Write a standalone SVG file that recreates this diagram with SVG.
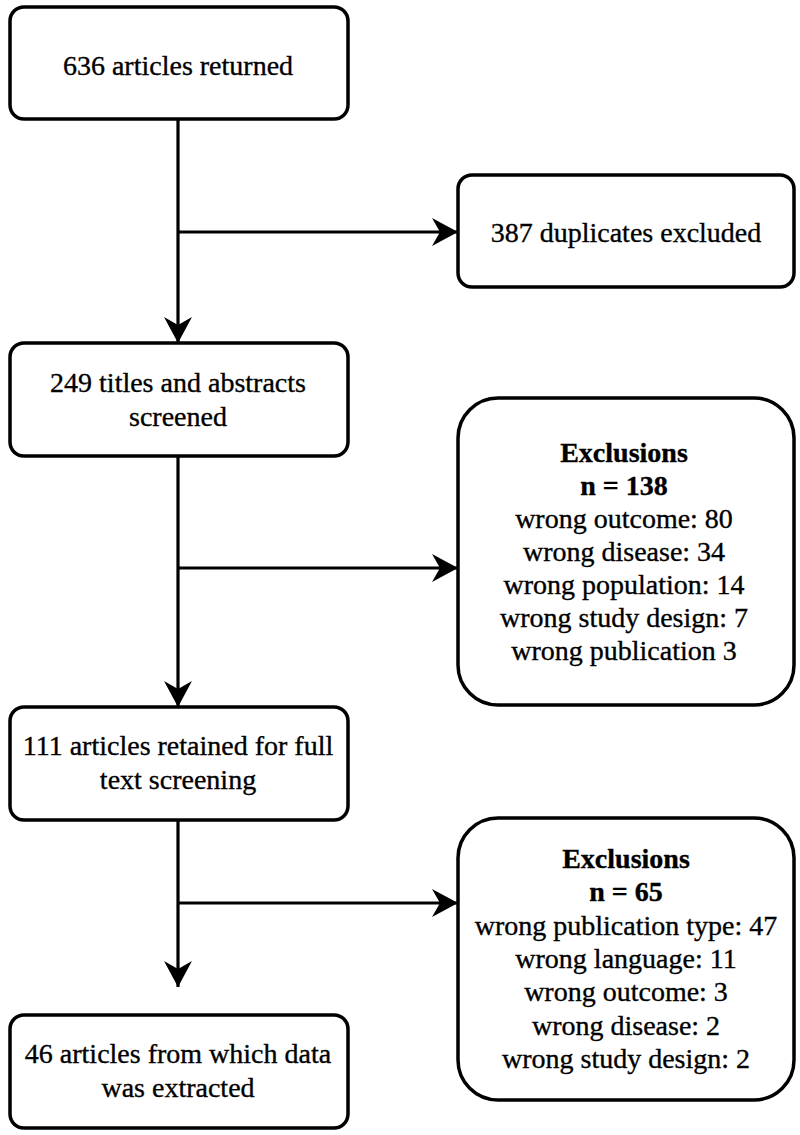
<svg xmlns="http://www.w3.org/2000/svg" width="800" height="1135" viewBox="0 0 800 1135">
<style>
.box{fill:#fff;stroke:#000;stroke-width:3.5}
.t{font-family:'Liberation Serif','Tinos','Nimbus Roman','Noto Serif','DejaVu Serif','FreeSerif',serif;font-size:28px;fill:#000;text-anchor:middle;stroke:#000;stroke-width:0.35}
.b{font-weight:bold}
.ln{fill:none;stroke:#000;stroke-width:3.2}
</style>
<defs>
<marker id="ah" markerUnits="userSpaceOnUse" markerWidth="30" markerHeight="30" viewBox="-27 -15 30 30" refX="0" refY="0" orient="auto">
<path d="M-26,-14 L0,0 L-26,14 L-18,0 Z" fill="#000"/>
</marker>
</defs>
<rect width="800" height="1135" fill="#fff"/>
<g id="connectors">
<path class="ln" d="M178,119 V343" marker-end="url(#ah)"/>
<path class="ln" d="M178,232 H458" marker-end="url(#ah)"/>
<path class="ln" d="M178,456 V707" marker-end="url(#ah)"/>
<path class="ln" d="M178,568 H458" marker-end="url(#ah)"/>
<path class="ln" d="M178,820 V987" marker-end="url(#ah)"/>
<path class="ln" d="M178,903 H458" marker-end="url(#ah)"/>
</g>
<g id="n1">
<rect class="box" x="10" y="7" width="338" height="112" rx="14"/>
<text class="t" x="178" y="75">636 articles returned</text>
</g>
<g id="n2">
<rect class="box" x="458" y="175" width="336" height="112" rx="14"/>
<text class="t" x="626" y="242">387 duplicates excluded</text>
</g>
<g id="n3">
<rect class="box" x="10" y="343" width="338" height="113" rx="14"/>
<text class="t" x="178" y="392">249 titles and abstracts</text>
<text class="t" x="178" y="426">screened</text>
</g>
<g id="n4">
<rect class="box" x="458" y="398" width="336" height="307" rx="40"/>
<text class="t b" x="624" y="462">Exclusions</text>
<text class="t b" x="624" y="495">n = 138</text>
<text class="t" x="624" y="528">wrong outcome: 80</text>
<text class="t" x="624" y="561">wrong disease: 34</text>
<text class="t" x="624" y="594">wrong population: 14</text>
<text class="t" x="624" y="627">wrong study design: 7</text>
<text class="t" x="624" y="660">wrong publication 3</text>
</g>
<g id="n5">
<rect class="box" x="10" y="707" width="338" height="113" rx="14"/>
<text class="t" x="178" y="755">111 articles retained for full</text>
<text class="t" x="178" y="789">text screening</text>
</g>
<g id="n6">
<rect class="box" x="458" y="818" width="336" height="282" rx="40"/>
<text class="t b" x="626" y="868">Exclusions</text>
<text class="t b" x="626" y="901">n = 65</text>
<text class="t" x="626" y="935">wrong publication type: 47</text>
<text class="t" x="626" y="968">wrong language: 11</text>
<text class="t" x="626" y="1001">wrong outcome: 3</text>
<text class="t" x="626" y="1035">wrong disease: 2</text>
<text class="t" x="626" y="1068">wrong study design: 2</text>
</g>
<g id="n7">
<rect class="box" x="10" y="1015" width="338" height="113" rx="14"/>
<text class="t" x="178" y="1063">46 articles from which data</text>
<text class="t" x="178" y="1097">was extracted</text>
</g>
</svg>
